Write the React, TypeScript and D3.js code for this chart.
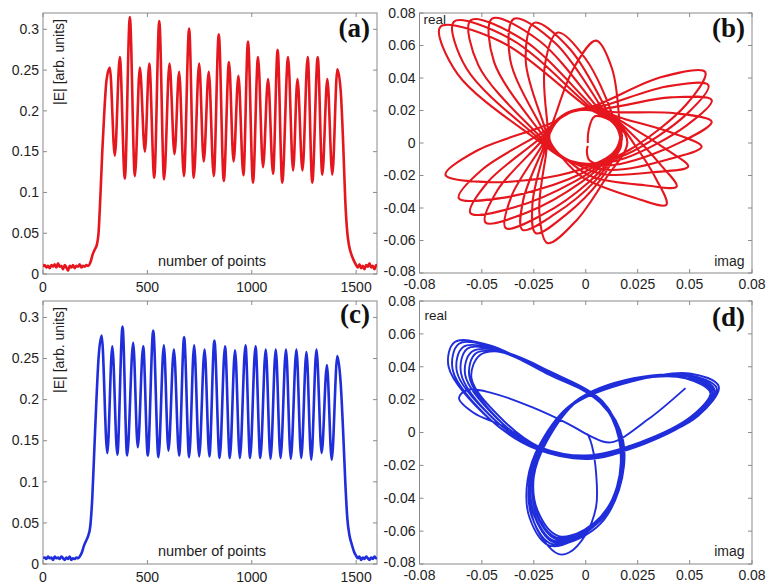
import React from 'react';
import * as d3 from 'd3';

// ---------------- DATA ----------------
// (a) |E| of the red pulse vs number of points  [x, |E|]
const redPulse: [number, number][] = [
  [0, 0.009], [8, 0.011], [16, 0.008], [24, 0.010], [32, 0.007], [40, 0.011], [48, 0.009], [56, 0.012],
  [64, 0.008], [72, 0.013], [80, 0.009], [88, 0.010], [96, 0.006], [104, 0.011], [112, 0.008], [120, 0.004],
  [128, 0.010], [136, 0.008], [144, 0.011], [152, 0.007], [160, 0.010], [168, 0.009], [176, 0.012], [184, 0.008],
  [192, 0.010], [200, 0.009], [208, 0.011], [216, 0.010],
  [228, 0.015], [238, 0.024], [248, 0.030], [258, 0.036], [266, 0.05], [274, 0.09], [284, 0.15], [294, 0.2], [304, 0.237],
  [320, 0.253], [344, 0.145], [368, 0.266], [392, 0.117], [416, 0.315], [440, 0.120], [464, 0.253], [488, 0.150],
  [509, 0.258], [533, 0.118], [557, 0.310], [580, 0.116], [606, 0.258], [630, 0.147], [652, 0.248], [675, 0.120],
  [700, 0.301], [722, 0.118], [748, 0.258], [770, 0.138], [794, 0.248], [818, 0.120], [842, 0.294], [866, 0.114],
  [891, 0.260], [913, 0.138], [936, 0.243], [960, 0.121], [982, 0.285], [1006, 0.112], [1030, 0.266], [1054, 0.131],
  [1078, 0.239], [1102, 0.123], [1124, 0.275], [1146, 0.112], [1174, 0.266], [1198, 0.127], [1219, 0.239], [1243, 0.127],
  [1268, 0.266], [1290, 0.112], [1316, 0.266], [1338, 0.122], [1362, 0.239], [1386, 0.122], [1410, 0.251],
  [1426, 0.225], [1438, 0.16], [1448, 0.09], [1458, 0.05], [1466, 0.035], [1476, 0.025], [1488, 0.017], [1500, 0.011],
  [1508, 0.008], [1516, 0.012], [1524, 0.007], [1532, 0.010], [1540, 0.006], [1548, 0.011], [1556, 0.009], [1564, 0.013],
  [1572, 0.008], [1580, 0.010], [1588, 0.006], [1596, 0.011], [1600, 0.009],
];

// (c) |E| of the blue pulse vs number of points  [x, |E|]
const bluePulse: [number, number][] = [
  [0, 0.007], [8, 0.008], [16, 0.006], [24, 0.009], [32, 0.007], [40, 0.008], [48, 0.005], [56, 0.009],
  [64, 0.007], [72, 0.008], [80, 0.006], [88, 0.009], [96, 0.007], [104, 0.005], [112, 0.008], [120, 0.006],
  [128, 0.009], [136, 0.005], [144, 0.007], [152, 0.006], [160, 0.008], [168, 0.007], [176, 0.009],
  [186, 0.014], [196, 0.022], [206, 0.028], [216, 0.034], [226, 0.045], [236, 0.08], [246, 0.14], [256, 0.2], [266, 0.25],
  [281, 0.278], [308, 0.135], [332, 0.265], [356, 0.133], [381, 0.289], [403, 0.132], [432, 0.269], [454, 0.142],
  [480, 0.265], [502, 0.132], [528, 0.284], [553, 0.130], [579, 0.266], [601, 0.138], [627, 0.261], [652, 0.132],
  [676, 0.276], [700, 0.130], [724, 0.266], [748, 0.131], [774, 0.261], [797, 0.131], [821, 0.272], [846, 0.129],
  [872, 0.265], [895, 0.129], [920, 0.260], [943, 0.129], [970, 0.266], [992, 0.129], [1018, 0.265], [1041, 0.129],
  [1067, 0.261], [1090, 0.128], [1115, 0.261], [1138, 0.129], [1164, 0.261], [1187, 0.128], [1214, 0.261], [1237, 0.129],
  [1262, 0.258], [1285, 0.127], [1310, 0.261], [1335, 0.135], [1360, 0.242], [1383, 0.127], [1410, 0.253],
  [1426, 0.22], [1438, 0.16], [1448, 0.1], [1458, 0.055], [1468, 0.035], [1478, 0.025], [1490, 0.015], [1500, 0.01],
  [1508, 0.007], [1516, 0.009], [1524, 0.005], [1532, 0.008], [1540, 0.006], [1548, 0.009], [1556, 0.007], [1564, 0.005],
  [1572, 0.008], [1580, 0.006], [1588, 0.009], [1596, 0.007], [1600, 0.008],
];

// (b) red phase portrait, read in polar form [angle in degrees, radius]
const redPortrait: [number, number][] = [
  [0, 0.001], [80, 0.008], [75, 0.017], [35, 0.019], [0, 0.02], [-66.6, 0.024], [264.4, 0.0482],
  [253.4, 0.0643], [242.4, 0.0482], [203.4, 0.021], [161.4, 0.0183], [119.3, 0.0205], [77.3, 0.024], [48.3, 0.0542],
  [37.3, 0.0722], [26.3, 0.0542], [-12.7, 0.021], [-70.3, 0.0132], [-128, 0.0138], [-185.6, 0.024], [145.4, 0.075],
  [134.4, 0.100], [123.4, 0.075], [84.4, 0.021], [31.8, 0.0191], [-20.8, 0.0156], [-73.4, 0.024], [257.6, 0.0454],
  [246.6, 0.0605], [235.6, 0.0454], [196.6, 0.021], [154.8, 0.0187], [112.9, 0.0207], [71.1, 0.024], [42.1, 0.0517],
  [31.1, 0.0689], [20.1, 0.0517], [-18.9, 0.021], [-75.8, 0.0131], [-132.7, 0.0141], [-189.6, 0.024], [141.4, 0.0734],
  [130.4, 0.0979], [119.4, 0.0734], [80.4, 0.021], [27, 0.0188], [-26.3, 0.0152], [-79.7, 0.024], [251.3, 0.0461],
  [240.3, 0.0615], [229.3, 0.0461], [190.3, 0.021], [148, 0.0191], [105.8, 0.0208], [63.5, 0.024], [34.5, 0.0496],
  [23.5, 0.0661], [12.5, 0.0496], [-26.5, 0.021], [-82.2, 0.013], [-138, 0.0143], [-193.7, 0.024], [137.3, 0.0702],
  [126.3, 0.0936], [115.3, 0.0702], [76.3, 0.021], [22.1, 0.0185], [-32.1, 0.0149], [-86.3, 0.024], [244.7, 0.0488],
  [233.7, 0.065], [222.7, 0.0488], [183.7, 0.021], [139.9, 0.0196], [96, 0.021], [52.2, 0.024], [23.2, 0.0465],
  [12.2, 0.062], [1.2, 0.0465], [-37.8, 0.021], [-91.7, 0.013], [-145.6, 0.0147], [-199.5, 0.024], [131.5, 0.0666],
  [120.5, 0.0888], [109.5, 0.0666], [70.5, 0.021], [15.5, 0.0181], [-39.6, 0.0144], [-94.6, 0.024], [236.4, 0.0515],
  [225.4, 0.0687], [214.4, 0.0515], [175.4, 0.021], [129.5, 0.0201], [83.5, 0.021], [37.6, 0.024], [8.6, 0.0419],
  [-2.4, 0.0558], [-13.4, 0.0419], [-52.4, 0.021], [-103.5, 0.0131], [-154.6, 0.0153], [-205.7, 0.024], [125.3, 0.0629],
  [114.3, 0.0839], [103.3, 0.0629], [64.3, 0.021], [8.8, 0.0176], [-46.6, 0.0141], [-102.1, 0.024], [228.9, 0.0527],
  [217.9, 0.0703], [206.9, 0.0527], [167.9, 0.021], [119.8, 0.0205], [71.7, 0.0208], [23.6, 0.024], [-5.4, 0.0386],
  [-16.4, 0.0514], [-27.4, 0.0386], [-66.4, 0.021], [-114.7, 0.0134], [-163.1, 0.0158], [-211.4, 0.024], [119.6, 0.0585],
  [108.6, 0.078], [97.6, 0.0585], [58.6, 0.021], [2.1, 0.0171], [-54.4, 0.0137], [-110.9, 0.024], [220.1, 0.0524],
  [209.1, 0.0699], [198.1, 0.0524], [159.1, 0.021], [108.9, 0.0208], [58.7, 0.0204], [8.5, 0.024], [-20.5, 0.0385],
  [-31.5, 0.0513], [-42.5, 0.0385], [-81.5, 0.021], [-127.3, 0.0138], [-173, 0.0165], [-218.8, 0.024], [112.2, 0.052],
  [101.2, 0.0693], [90.2, 0.052], [51.2, 0.021], [-7.1, 0.0165], [-65.4, 0.0134], [-123.8, 0.024], [207.2, 0.0527],
  [196.2, 0.0703], [185.2, 0.0527], [146.2, 0.021], [96, 0.021], [45.8, 0.0199], [-4.4, 0.024], [-33.4, 0.0407],
  [-44.4, 0.0543], [-55.4, 0.0407], [-94.4, 0.021], [-141.1, 0.0145], [-187.8, 0.0176], [-234.5, 0.024], [96.5, 0.0474],
  [85.5, 0.0632], [74.5, 0.0474], [35.5, 0.02], [-10, 0.017], [-55, 0.016], [-80, 0.011], [-84, 0.005], [-60, 0.002],
];

// (d) blue phase portrait [imag, real]
const bluePortrait: [number, number][] = [
  [0.001, -0.001], [0.003, -0.008], [0.005, -0.025], [0.005, -0.045], [0.0, -0.062], [-0.008, -0.073], [-0.013, -0.074], [-0.02, -0.066],
  [-0.026, -0.05], [-0.027, -0.028], [-0.021, -0.006], [-0.006, 0.017], [0.022, 0.031], [0.05, 0.036], [0.064, 0.028], [0.054, 0.01], [0.028, -0.006], [0.002, -0.016], [-0.025, -0.009], [-0.047, 0.009], [-0.066, 0.04], [-0.063, 0.055], [-0.046, 0.053], [-0.02, 0.037], [0.008, 0.018], [0.017, -0.004], [0.015, -0.034], [0.004, -0.057], [-0.017, -0.069],
  [-0.027, -0.052], [-0.028, -0.029], [-0.022, -0.007], [-0.007, 0.017], [0.021, 0.031], [0.049, 0.035], [0.063, 0.027], [0.054, 0.011], [0.029, -0.006], [0.003, -0.016], [-0.024, -0.010], [-0.046, 0.008], [-0.064, 0.038], [-0.061, 0.054], [-0.045, 0.052], [-0.019, 0.036], [0.008, 0.018], [0.018, -0.005], [0.016, -0.035], [0.005, -0.058], [-0.016, -0.068],
  [-0.026, -0.051], [-0.027, -0.029], [-0.021, -0.007], [-0.006, 0.018], [0.022, 0.032], [0.050, 0.034], [0.062, 0.026], [0.053, 0.010], [0.028, -0.007], [0.002, -0.015], [-0.024, -0.009], [-0.045, 0.009], [-0.062, 0.037], [-0.059, 0.052], [-0.044, 0.051], [-0.019, 0.037], [0.007, 0.018], [0.017, -0.004], [0.015, -0.034], [0.004, -0.057], [-0.015, -0.067],
  [-0.025, -0.05], [-0.026, -0.028], [-0.020, -0.006], [-0.005, 0.018], [0.023, 0.032], [0.050, 0.035], [0.062, 0.025], [0.052, 0.009], [0.027, -0.007], [0.001, -0.015], [-0.023, -0.010], [-0.044, 0.008], [-0.060, 0.036], [-0.057, 0.051], [-0.043, 0.050], [-0.018, 0.036], [0.007, 0.019], [0.016, -0.004], [0.015, -0.033], [0.004, -0.056], [-0.015, -0.066],
  [-0.025, -0.049], [-0.026, -0.027], [-0.020, -0.006], [-0.005, 0.019], [0.023, 0.033], [0.049, 0.034], [0.061, 0.025], [0.052, 0.010], [0.027, -0.006], [0.001, -0.014], [-0.023, -0.009], [-0.043, 0.009], [-0.058, 0.035], [-0.055, 0.049], [-0.042, 0.050], [-0.018, 0.037], [0.008, 0.019], [0.017, -0.004], [0.016, -0.034], [0.005, -0.056], [-0.014, -0.065],
  [-0.024, -0.049], [-0.025, -0.027], [-0.019, -0.006], [-0.004, 0.019], [0.024, 0.033], [0.049, 0.034], [0.061, 0.024], [0.051, 0.009], [0.026, -0.007], [0.0, -0.015], [-0.022, -0.010], [-0.042, 0.008], [-0.056, 0.034], [-0.053, 0.048], [-0.041, 0.049], [-0.017, 0.036], [0.008, 0.019], [0.017, -0.005], [0.015, -0.034], [0.004, -0.055], [-0.014, -0.064],
  [-0.024, -0.048], [-0.025, -0.027], [-0.019, -0.006], [-0.004, 0.019], [0.024, 0.033], [0.048, 0.033], [0.060, 0.024], [0.051, 0.010], [0.026, -0.006], [0.0, -0.014], [-0.022, -0.009], [-0.041, 0.009], [-0.055, 0.033], [-0.051, 0.047], [-0.040, 0.049], [-0.017, 0.037], [0.008, 0.019], [0.017, -0.004], [0.016, -0.033], [0.005, -0.055], [-0.013, -0.063],
  [-0.023, -0.048], [-0.025, -0.027], [-0.019, -0.006], [-0.004, 0.019], [0.024, 0.032], [0.048, 0.033], [0.060, 0.025], [0.051, 0.010], [0.026, -0.006], [0.0, -0.014], [-0.022, -0.009], [-0.040, 0.004], [-0.054, 0.012], [-0.061, 0.021], [-0.057, 0.026], [-0.045, 0.024], [-0.025, 0.015], [-0.008, 0.005], [0.002, -0.002], [0.012, -0.006], [0.03, 0.008], [0.048, 0.027],
];

const pulseXTicks = [0, 500, 1000, 1500];
const pulseXLabels = ['0', '500', '1000', '1500'];
const pulseYTicks = [0, 0.05, 0.1, 0.15, 0.2, 0.25, 0.3];
const pulseYLabels = ['0', '0.05', '0.1', '0.15', '0.2', '0.25', '0.3'];
const portraitXTicks = [-0.08, -0.05, -0.025, 0, 0.025, 0.05, 0.08];
const portraitXLabels = ['-0.08', '-0.05', '-0.025', '0', '0.025', '0.05', '0.08'];
const portraitYTicks = [-0.08, -0.06, -0.04, -0.02, 0, 0.02, 0.04, 0.06, 0.08];
const portraitYLabels = ['-0.08', '-0.06', '-0.04', '-0.02', '0', '0.02', '0.04', '0.06', '0.08'];

// ---------------- LAYOUT ----------------
const W = 766, H = 584;
const SANS = "'Liberation Sans', Arial, Helvetica, sans-serif";
const SERIF = "'Liberation Serif', 'Times New Roman', serif";
const AXIS = '#8a8a8a';
const TXT = '#1e1e1e';
const RED = '#e5161d';
const BLUE = '#1f2ddb';

type Box = { x0: number; x1: number; y0: number; y1: number };
const boxA: Box = { x0: 43, x1: 377, y0: 13, y1: 274 };
const boxB: Box = { x0: 419.5, x1: 752, y0: 13, y1: 273 };
const boxC: Box = { x0: 43, x1: 377, y0: 301, y1: 564 };
const boxD: Box = { x0: 419.5, x1: 752, y0: 301, y1: 564 };

function Axes(props: {
  box: Box; xs: any; ys: any;
  xTicks: number[]; xLabels: string[]; yTicks: number[]; yLabels: string[]; xGap: number; yShift?: number;
}) {
  const { box, xs, ys, xTicks, xLabels, yTicks, yLabels, xGap } = props;
  const tl = 4;
  return (
    <g>
      <rect x={box.x0} y={box.y0} width={box.x1 - box.x0} height={box.y1 - box.y0}
        fill="#fff" stroke={AXIS} strokeWidth={1} />
      {xTicks.map((t, i) => (
        <g key={'x' + i}>
          <line x1={xs(t)} x2={xs(t)} y1={box.y1} y2={box.y1 - tl} stroke={AXIS} />
          <line x1={xs(t)} x2={xs(t)} y1={box.y0} y2={box.y0 + tl} stroke={AXIS} />
          <text x={xs(t)} y={box.y1 + xGap} textAnchor="middle" fontFamily={SANS} fontSize={14} fill={TXT}>{xLabels[i]}</text>
        </g>
      ))}
      {yTicks.map((t, i) => (
        <g key={'y' + i}>
          <line x1={box.x0} x2={box.x0 + tl} y1={ys(t)} y2={ys(t)} stroke={AXIS} />
          <line x1={box.x1} x2={box.x1 - tl} y1={ys(t)} y2={ys(t)} stroke={AXIS} />
          <text x={box.x0 - 4} y={ys(t) - (i === 0 && props.yShift ? props.yShift : 0)} dy="0.34em" textAnchor="end"
            fontFamily={SANS} fontSize={14} fill={TXT}>{yLabels[i]}</text>
        </g>
      ))}
    </g>
  );
}

function PulsePanel(props: { id: string; box: Box; data: [number, number][]; color: string; letter: string; letterY: number }) {
  const { id, box, data, color, letter, letterY } = props;
  const xs = d3.scaleLinear().domain([0, 1600]).range([box.x0, box.x1]);
  const ys = d3.scaleLinear().domain([0, 0.32]).range([box.y1, box.y0]);
  const line = d3.line<[number, number]>().x(d => xs(d[0])).y(d => ys(d[1])).curve(d3.curveMonotoneX);
  return (
    <g>
      <Axes box={box} xs={xs} ys={ys} xTicks={pulseXTicks} xLabels={pulseXLabels}
        yTicks={pulseYTicks} yLabels={pulseYLabels} xGap={18} />
      <defs>
        <clipPath id={'clip' + id}><rect x={box.x0} y={box.y0} width={box.x1 - box.x0} height={box.y1 - box.y0} /></clipPath>
      </defs>
      <text transform={`translate(${box.x0 + 21},${box.y0 + 6}) rotate(-90)`} textAnchor="end"
        fontFamily={SANS} fontSize={14} fill={TXT}>|E| [arb. units]</text>
      <text x={212} y={box.y1 - 8.5} textAnchor="middle" fontFamily={SANS} fontSize={14.5} fill={TXT}>number of points</text>
      <path d={line(data) || ''} fill="none" stroke={color} strokeWidth={2.6} strokeLinejoin="round" clipPath={`url(#clip${id})`} />
      <text x={box.x1 - 7} y={letterY} textAnchor="end" fontFamily={SERIF} fontWeight="bold" fontSize={27} fill="#111">{letter}</text>
    </g>
  );
}

export default function App() {
  const xsB = d3.scaleLinear().domain([-0.08, 0.08]).range([boxB.x0, boxB.x1]);
  const ysB = d3.scaleLinear().domain([-0.08, 0.08]).range([boxB.y1, boxB.y0]);
  const xsD = d3.scaleLinear().domain([-0.08, 0.08]).range([boxD.x0, boxD.x1]);
  const ysD = d3.scaleLinear().domain([-0.08, 0.08]).range([boxD.y1, boxD.y0]);
  const rad = Math.PI / 180;
  const lineB = d3.line<[number, number]>()
    .x(d => xsB(d[1] * Math.cos(d[0] * rad)))
    .y(d => ysB(d[1] * Math.sin(d[0] * rad)))
    .curve(d3.curveCatmullRom.alpha(0.5));
  const lineD = d3.line<[number, number]>()
    .x(d => xsD(d[0]))
    .y(d => ysD(d[1]))
    .curve(d3.curveCatmullRom.alpha(0.5));

  return (
    <svg width={W} height={H} viewBox={`0 0 ${W} ${H}`}
      style={{ position: 'absolute', left: 0, top: 0, background: '#fff' }}>
      <rect x={0} y={0} width={W} height={H} fill="#fff" />
      <PulsePanel id="a" box={boxA} data={redPulse} color={RED} letter="(a)" letterY={37} />
      <PulsePanel id="c" box={boxC} data={bluePulse} color={BLUE} letter="(c)" letterY={323} />

      <defs>
        <clipPath id="clipB"><rect x={boxB.x0} y={boxB.y0} width={boxB.x1 - boxB.x0} height={boxB.y1 - boxB.y0} /></clipPath>
        <clipPath id="clipD"><rect x={boxD.x0} y={boxD.y0} width={boxD.x1 - boxD.x0} height={boxD.y1 - boxD.y0} /></clipPath>
      </defs>

      <Axes box={boxB} xs={xsB} ys={ysB} xTicks={portraitXTicks} xLabels={portraitXLabels}
        yTicks={portraitYTicks} yLabels={portraitYLabels} xGap={16} yShift={2} />
      <text x={boxB.x0 + 4} y={23.5} fontFamily={SANS} fontSize={13.5} fill={TXT}>real</text>
      <text x={boxB.x1 - 7.5} y={265.5} textAnchor="end" fontFamily={SANS} fontSize={14} fill={TXT}>imag</text>
      <path d={lineB(redPortrait) || ''} fill="none" stroke={RED} strokeWidth={2.1} strokeLinejoin="round" clipPath="url(#clipB)" />
      <text x={boxB.x1 - 7} y={37} textAnchor="end" fontFamily={SERIF} fontWeight="bold" fontSize={27} fill="#111">(b)</text>

      <Axes box={boxD} xs={xsD} ys={ysD} xTicks={portraitXTicks} xLabels={portraitXLabels}
        yTicks={portraitYTicks} yLabels={portraitYLabels} xGap={15.5} yShift={2} />
      <text x={boxD.x0 + 5} y={320} fontFamily={SANS} fontSize={13.5} fill={TXT}>real</text>
      <text x={boxD.x1 - 7.5} y={556} textAnchor="end" fontFamily={SANS} fontSize={14} fill={TXT}>imag</text>
      <path d={lineD(bluePortrait) || ''} fill="none" stroke={BLUE} strokeWidth={1.9} strokeLinejoin="round" clipPath="url(#clipD)" />
      <text x={boxD.x1 - 7} y={326} textAnchor="end" fontFamily={SERIF} fontWeight="bold" fontSize={27} fill="#111">(d)</text>
    </svg>
  );
}
